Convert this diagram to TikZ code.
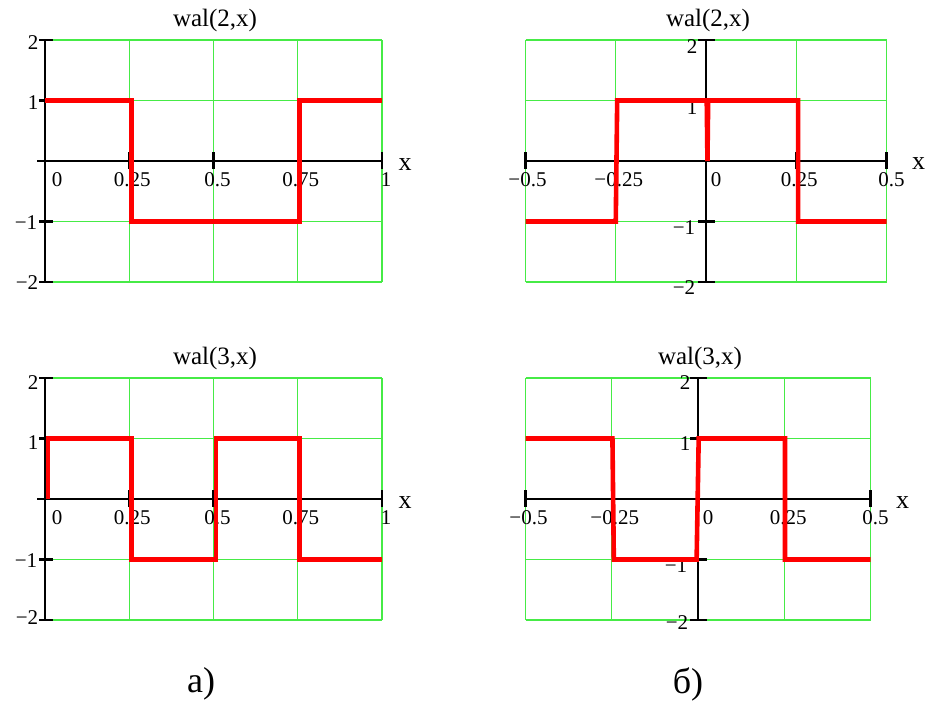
\documentclass[tikz,border=0pt]{standalone}
\usepackage{fontspec}
\setmainfont{Liberation Serif}
\definecolor{gridgreen}{RGB}{70,235,70}
\definecolor{curvered}{RGB}{255,0,0}
\tikzset{
  gridc/.style={draw=gridgreen, line width=1.2pt},
  axisc/.style={draw=black, line width=2.4pt},
  tickc/.style={draw=black, line width=2.4pt},
  curvec/.style={draw=curvered, line width=4.6pt, line join=miter},
  ttl/.style={font=\fontsize{25}{25}\selectfont, inner sep=0pt},
  lbl/.style={font=\fontsize{21}{21}\selectfont, inner sep=0pt},
  xlbl/.style={font=\fontsize{26}{26}\selectfont, inner sep=0pt},
  captext/.style={font=\fontsize{36}{36}\selectfont, inner sep=0pt}
}
\begin{document}
\begin{tikzpicture}[x=1pt,y=-1pt]
\useasboundingbox (0,0) rectangle (928,702);

% ---------- Plot 1 (top-left) ----------
\node[ttl] (t1) at (215,20) {wal(2,x)};
\begin{scope}[shift={(45,161)}, x=337pt, y=60.5pt]
  \draw[gridc] (0,-2) grid[xstep=0.25,ystep=1] (1,2);
  \draw[axisc] (0,-2) -- (0,2);
  \draw[axisc] ([xshift=-8pt]0,0) -- (1,0);
  \foreach \yy in {-2,-1,1,2} \draw[tickc] ([xshift=-6pt]0,\yy) -- ([xshift=8pt]0,\yy);
  \foreach \xx in {0.25,0.5,0.75,1} \draw[tickc] ([yshift=-8pt]\xx,0) -- ([yshift=9pt]\xx,0);
  \node[lbl] (a0) at ([xshift=12pt,yshift=-19pt]0,0) {0};
  \node[lbl] (a1) at ([xshift=3pt,yshift=-19pt]0.25,0) {0.25};
  \node[lbl] (a2) at ([xshift=4pt,yshift=-19pt]0.5,0) {0.5};
  \node[lbl] (a3) at ([xshift=3pt,yshift=-19pt]0.75,0) {0.75};
  \node[lbl] (a4) at ([xshift=4pt,yshift=-19pt]1,0) {1};
  \node[xlbl] (ax) at ([xshift=23pt,yshift=-4pt]1,0) {x};
  \node[lbl] (ay1) at ([xshift=-12pt,yshift=-3pt]0,2) {2};
  \node[lbl] (ay2) at ([xshift=-12pt,yshift=-2pt]0,1) {1};
  \node[lbl] (ay3) at ([xshift=-19pt,yshift=-1pt]0,-1) {−1};
  \node[lbl] (ay4) at ([xshift=-18pt,yshift=-1pt]0,-2) {−2};
  \draw[curvec] (0,1) -- (0.256,1) -- (0.256,-1) -- (0.756,-1) -- (0.756,1) -- (1,1);
\end{scope}

% ---------- Plot 2 (top-right) ----------
\node[ttl] (t2) at (708,20) {wal(2,x)};
\begin{scope}[shift={(706,161)}, x=361pt, y=60.5pt]
  \draw[gridc] (-0.5,-2) grid[xstep=0.25,ystep=1] (0.5,2);
  \draw[axisc] (0,-2) -- (0,2);
  \draw[axisc] (-0.5,0) -- (0.5,0);
  \foreach \yy in {-2,-1,1,2} \draw[tickc] ([xshift=-8pt]0,\yy) -- ([xshift=9pt]0,\yy);
  \draw[tickc] ([xshift=-9pt]0,0) -- (0,0);
  \foreach \xx in {-0.5,-0.25,0.25,0.5} \draw[tickc] ([yshift=-8pt]\xx,0) -- ([yshift=9pt]\xx,0);
  \node[lbl] (b0) at ([xshift=2pt,yshift=-19pt]-0.5,0) {−0.5};
  \node[lbl] (b1) at ([xshift=3pt,yshift=-19pt]-0.25,0) {−0.25};
  \node[lbl] (b2) at ([xshift=10pt,yshift=-19pt]0,0) {0};
  \node[lbl] (b3) at ([xshift=3pt,yshift=-19pt]0.25,0) {0.25};
  \node[lbl] (b4) at ([xshift=5pt,yshift=-19pt]0.5,0) {0.5};
  \node[xlbl] (bx) at ([xshift=32pt,yshift=-3pt]0.5,0) {x};
  \node[lbl] (by1) at ([xshift=-14pt,yshift=-7pt]0,2) {2};
  \node[lbl] (by2) at ([xshift=-14pt,yshift=-7pt]0,1) {1};
  \node[lbl] (by3) at ([xshift=-22pt,yshift=-6pt]0,-1) {−1};
  \node[lbl] (by4) at ([xshift=-22pt,yshift=-6pt]0,-2) {−2};
  \draw[curvec] (-0.5,-1) -- (-0.25,-1) -- (-0.246,1) -- (0.002,1) -- (0.004,0) -- (0.006,1) -- (0.255,1) -- (0.255,-1) -- (0.5,-1);
\end{scope}

% ---------- Plot 3 (bottom-left) ----------
\node[ttl] (t3) at (215,358) {wal(3,x)};
\begin{scope}[shift={(45,499)}, x=337pt, y=60.5pt]
  \draw[gridc] (0,-2) grid[xstep=0.25,ystep=1] (1,2);
  \draw[axisc] (0,-2) -- (0,2);
  \draw[axisc] ([xshift=-8pt]0,0) -- (1,0);
  \foreach \yy in {-2,-1,1,2} \draw[tickc] ([xshift=-6pt]0,\yy) -- ([xshift=8pt]0,\yy);
  \foreach \xx in {0.25,0.5,0.75,1} \draw[tickc] ([yshift=-8pt]\xx,0) -- ([yshift=9pt]\xx,0);
  \node[lbl] (c0) at ([xshift=12pt,yshift=-19pt]0,0) {0};
  \node[lbl] (c1) at ([xshift=3pt,yshift=-19pt]0.25,0) {0.25};
  \node[lbl] (c2) at ([xshift=4pt,yshift=-19pt]0.5,0) {0.5};
  \node[lbl] (c3) at ([xshift=3pt,yshift=-19pt]0.75,0) {0.75};
  \node[lbl] (c4) at ([xshift=4pt,yshift=-19pt]1,0) {1};
  \node[xlbl] (cx) at ([xshift=23pt,yshift=-4pt]1,0) {x};
  \node[lbl] (cy1) at ([xshift=-12pt,yshift=-5pt]0,2) {2};
  \node[lbl] (cy2) at ([xshift=-12pt,yshift=-4pt]0,1) {1};
  \node[lbl] (cy3) at ([xshift=-19pt,yshift=-1pt]0,-1) {−1};
  \node[lbl] (cy4) at ([xshift=-18pt,yshift=2pt]0,-2) {−2};
  \draw[curvec] (0.009,0) -- (0.009,1) -- (0.256,1) -- (0.256,-1) -- (0.507,-1) -- (0.507,1) -- (0.756,1) -- (0.756,-1) -- (1,-1);
\end{scope}

% ---------- Plot 4 (bottom-right) ----------
\node[ttl] (t4) at (700,358) {wal(3,x)};
\begin{scope}[shift={(698,499)}, x=345pt, y=60.5pt]
  \draw[gridc] (-0.5,-2) grid[xstep=0.25,ystep=1] (0.5,2);
  \draw[axisc] (0,-2) -- (0,2);
  \draw[axisc] (-0.5,0) -- (0.5,0);
  \foreach \yy in {-2,-1,1,2} \draw[tickc] ([xshift=-8pt]0,\yy) -- ([xshift=9pt]0,\yy);
  \draw[tickc] ([xshift=-9pt]0,0) -- (0,0);
  \foreach \xx in {-0.5,0.25,0.5} \draw[tickc] ([yshift=-8pt]\xx,0) -- ([yshift=9pt]\xx,0);
  \node[lbl] (d0) at ([xshift=3pt,yshift=-19pt]-0.5,0) {−0.5};
  \node[lbl] (d1) at ([xshift=3pt,yshift=-19pt]-0.25,0) {−0.25};
  \node[lbl] (d2) at ([xshift=10pt,yshift=-19pt]0,0) {0};
  \node[lbl] (d3) at ([xshift=4pt,yshift=-19pt]0.25,0) {0.25};
  \node[lbl] (d4) at ([xshift=5pt,yshift=-19pt]0.5,0) {0.5};
  \node[xlbl] (dx) at ([xshift=32pt,yshift=-4pt]0.5,0) {x};
  \node[lbl] (dy1) at ([xshift=-13pt,yshift=-5pt]0,2) {2};
  \node[lbl] (dy2) at ([xshift=-13pt,yshift=-5pt]0,1) {1};
  \node[lbl] (dy3) at ([xshift=-22pt,yshift=-6pt]0,-1) {−1};
  \node[lbl] (dy4) at ([xshift=-21pt,yshift=-3pt]0,-2) {−2};
  \draw[curvec] (-0.5,1) -- (-0.248,1) -- (-0.244,-1) -- (-0.004,-1) -- (0.002,1) -- (0.252,1) -- (0.252,-1) -- (0.5,-1);
\end{scope}

% ---------- captions ----------
\node[captext] (capa) at (201,684) {а)};
\node[captext] (capb) at (688,684) {б)};
\end{tikzpicture}
\end{document}
